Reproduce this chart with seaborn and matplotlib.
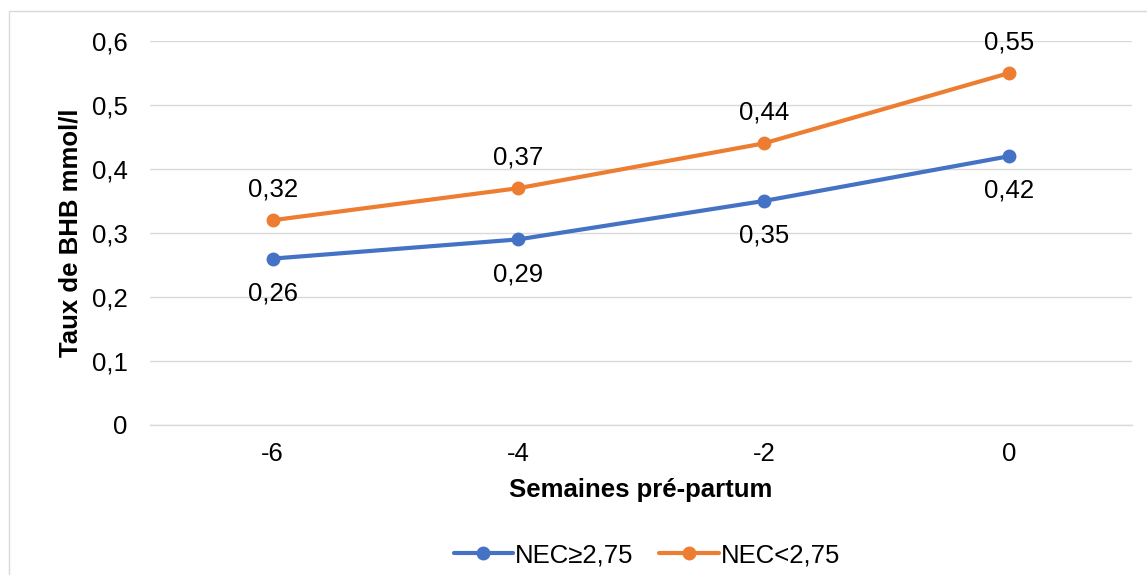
import matplotlib
matplotlib.use("Agg")
import matplotlib.pyplot as plt
import seaborn as sns
import pandas as pd
from matplotlib.patches import Rectangle
from matplotlib.lines import Line2D

weeks = ["-6", "-4", "-2", "0"]
nec_high = [0.26, 0.29, 0.35, 0.42]
nec_low = [0.32, 0.37, 0.44, 0.55]
series_names = ["NEC≥2,75", "NEC<2,75"]
y_ticks = [0, 0.1, 0.2, 0.3, 0.4, 0.5, 0.6]
y_tick_labels = ["0", "0,1", "0,2", "0,3", "0,4", "0,5", "0,6"]

sns.set_theme(style="white")
plt.rcParams['font.family'] = ['Liberation Sans', 'DejaVu Sans']
plt.rcParams['text.color'] = '#000000'
plt.rcParams['axes.labelcolor'] = '#000000'

FS = 18.5
LW = 3.0
MS = 10

df = pd.DataFrame({
    "week": weeks * 2,
    "pos": list(range(len(weeks))) * 2,
    "value": nec_high + nec_low,
    "series": [series_names[0]] * len(weeks) + [series_names[1]] * len(weeks),
})

colors = {series_names[0]: "#4472C4", series_names[1]: "#ED7D31"}

fig = plt.figure(figsize=(11.47, 5.75), dpi=100)
ax = fig.add_axes([150/1147, 150/575, 982/1147, 384/575])

sns.lineplot(data=df, x="pos", y="value", hue="series", palette=colors,
             marker="o", markersize=MS, markeredgewidth=0, linewidth=LW,
             ax=ax, legend=False)

ax.set_xlim(-0.5, len(weeks) - 0.5)
ax.set_ylim(0, 0.6)
ax.set_yticks(y_ticks)
ax.set_yticklabels(y_tick_labels, fontsize=FS, color="#000000")
ax.set_xticks(range(len(weeks)))
ax.set_xticklabels(weeks, fontsize=FS, color="#000000")
ax.tick_params(axis="x", length=0, pad=12.5)
ax.tick_params(axis="y", length=0, pad=16)
ax.grid(axis="y", color="#D9D9D9", linewidth=1.0)
ax.grid(axis="x", visible=False)
for s in ["top", "right", "left"]:
    ax.spines[s].set_visible(False)
ax.spines["bottom"].set_color("#D9D9D9")
ax.spines["bottom"].set_linewidth(1.0)
ax.set_axisbelow(True)

ax.set_xlabel("Semaines pré-partum", fontsize=FS, fontweight="bold", labelpad=8.6)
ax.set_ylabel("Taux de BHB mmol/l", fontsize=FS, fontweight="bold", labelpad=7)

for i, v in enumerate(nec_high):
    ax.annotate(f"{v:.2f}".replace(".", ","), (i, v), xytext=(0, -25),
                textcoords="offset points", ha="center", va="center", fontsize=FS)
for i, v in enumerate(nec_low):
    ax.annotate(f"{v:.2f}".replace(".", ","), (i, v), xytext=(0, 22),
                textcoords="offset points", ha="center", va="center", fontsize=FS)

handles = [Line2D([0], [0], color=colors[n], lw=LW, marker="o", markersize=MS,
                  markeredgewidth=0) for n in series_names]
fig.legend(handles, series_names, loc="center", bbox_to_anchor=(647/1147, 1 - 555/575),
           ncol=2, frameon=False, fontsize=FS, handlelength=2.3, handletextpad=0.1,
           columnspacing=1.0)

fig.patches.append(Rectangle((9/1147, -0.1), 1.2, 564/575 + 0.1, transform=fig.transFigure,
                             fill=False, edgecolor="#D9D9D9", linewidth=1.0))

fig.savefig("out.png", dpi=100)
